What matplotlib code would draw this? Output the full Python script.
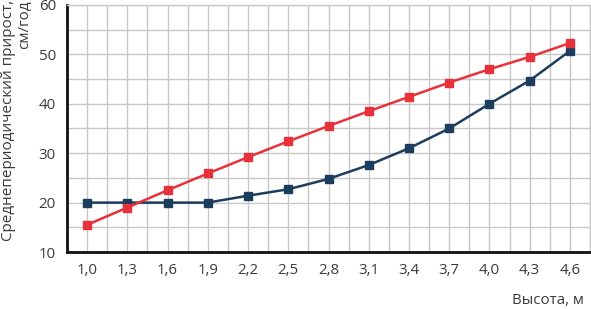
import matplotlib
matplotlib.use("Agg")
import matplotlib.pyplot as plt
import numpy as np

heights = ["1,0", "1,3", "1,6", "1,9", "2,2", "2,5", "2,8", "3,1", "3,4", "3,7", "4,0", "4,3", "4,6"]
red_series = [15.5, 19.0, 22.5, 25.9, 29.2, 32.4, 35.5, 38.5, 41.4, 44.3, 47.0, 49.5, 52.3]
blue_series = [20.0, 20.0, 20.0, 20.0, 21.4, 22.7, 24.8, 27.6, 31.0, 35.0, 40.0, 44.7, 50.7]
y_ticks = [10, 20, 30, 40, 50, 60]

plt.rcParams['font.family'] = ['Open Sans', 'DejaVu Sans']
txt = '#3a3a3a'

fig = plt.figure(figsize=(5.91, 3.09), dpi=100)
ax = fig.add_axes([67/591, 1-252/309, (590-67)/591, (252-5)/309])

x = np.arange(len(heights))
ax.plot(x, blue_series, color='#1d3d5e', lw=1.8, marker='s', ms=6, zorder=3)
ax.plot(x, red_series, color='#e8323b', lw=1.8, marker='s', ms=6, zorder=4)

ax.set_xlim(-0.5, len(heights) - 0.5)
ax.set_ylim(10, 60)
ax.set_xticks(x)
ax.set_xticklabels(heights)
ax.set_xticks(np.arange(-0.5, len(heights), 1.0), minor=True)
ax.set_yticks(y_ticks)
ax.set_yticks(np.arange(15, 60, 10), minor=True)
ax.grid(True, which='both', color='#c8c8c8', lw=1.0, zorder=0)
ax.set_axisbelow(True)
ax.tick_params(which='both', length=0)
ax.tick_params(axis='x', pad=8, labelsize=10.8, colors=txt)
ax.tick_params(axis='y', pad=8, labelsize=10.8, colors=txt)

for s in ['left', 'bottom']:
    ax.spines[s].set_color('#111111')
    ax.spines[s].set_linewidth(2.0)
for s in ['top', 'right']:
    ax.spines[s].set_color('#c8c8c8')
    ax.spines[s].set_linewidth(1.0)

fig.text(1/591, 1-0/309, "Среднепериодический прирост,\nсм/год", rotation=90,
         ha='left', va='top', multialignment='right', fontsize=11, color=txt,
         linespacing=1.1)
fig.text(584/591, 1-301/309, "Высота, м", ha='right', va='center', fontsize=10.8, color=txt)

fig.savefig("out.png", dpi=100)
